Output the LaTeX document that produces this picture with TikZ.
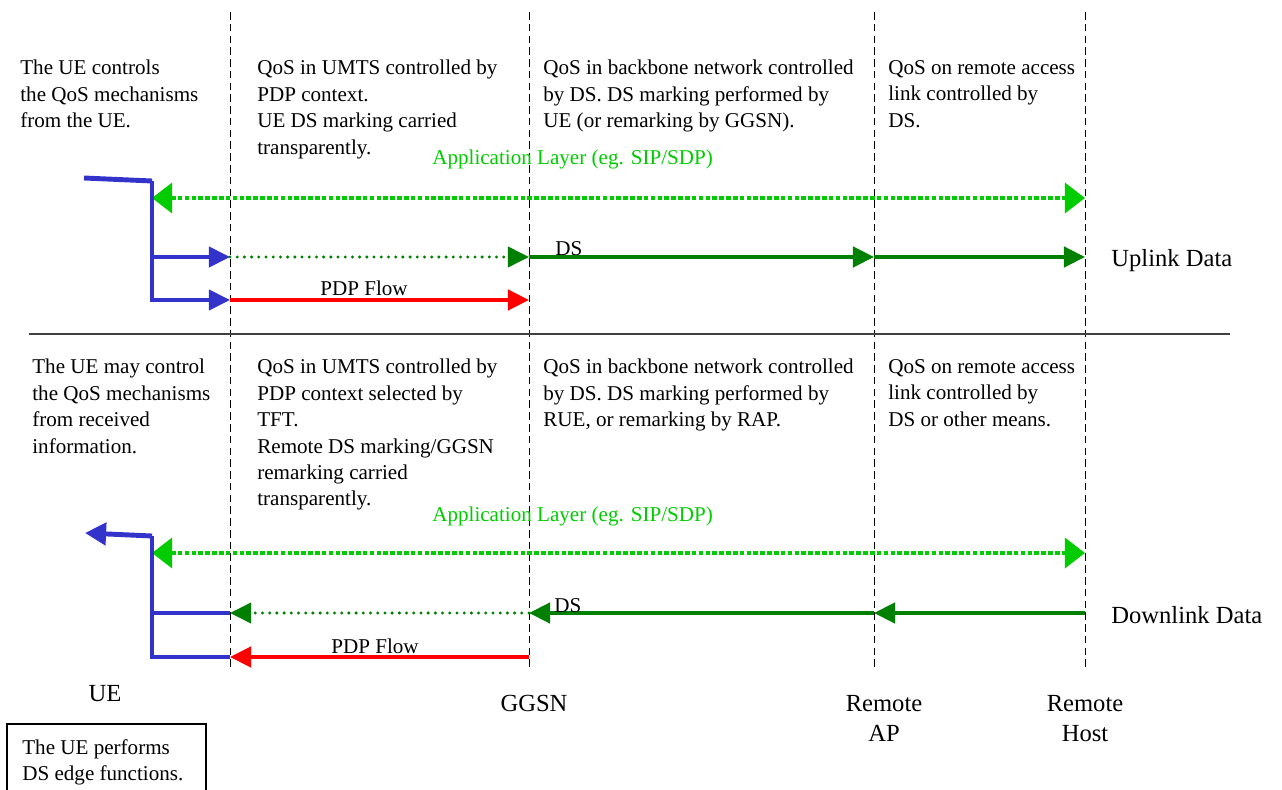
\documentclass[tikz,border=0pt]{standalone}
\usepackage{fontspec}
\setmainfont{Liberation Serif}
\usetikzlibrary{arrows.meta, positioning}
\definecolor{appgreen}{RGB}{0,204,0}
\definecolor{dsgreen}{RGB}{0,128,0}
\definecolor{uablue}{RGB}{51,51,204}

\begin{document}
\begin{tikzpicture}[x=0.02cm, y=-0.02cm,
  txt/.style={anchor=north west, inner sep=0pt, align=left, font=\fontsize{12}{15}\selectfont},
  flow/.style={anchor=base, inner sep=0pt, font=\fontsize{12}{15}\selectfont},
  lbl/.style={inner sep=0pt, align=center, font=\fontsize{14}{17}\selectfont},
  border/.style={black, line width=0.5pt, dash pattern=on 4.3pt off 2.4pt},
  app/.style={appgreen, line width=2.6pt, dash pattern=on 2.6pt off 1.3pt,
    {Triangle[length=11.5pt,width=17pt]}-{Triangle[length=11.5pt,width=17pt]}},
  dsdot/.style={dsgreen, line width=1.9pt, line cap=round, dash pattern=on 0pt off 4.1pt},
  ds/.style={dsgreen, line width=2.3pt},
  pdp/.style={red, line width=2.3pt},
  ua/.style={uablue, line width=2pt},
  head/.style={-{Triangle[length=12pt,width=11.5pt]}}]
\useasboundingbox (0,0) rectangle (1282,790);

% Nodos de red
\foreach \n/\x in {ue/230, ggsn/529, rap/874, rh/1085}
  \draw[border] (\x,12) coordinate (\n-t) -- (\x,668) coordinate (\n-b);
\draw[black!75, line width=0.75pt] (29,334) coordinate (sepL) -- (1230,334) coordinate (sepR);

% Carriles
\coordinate (uaX) at (152,0);
\coordinate (upApp) at (0,198);
\coordinate (upDS) at (0,257);
\coordinate (upPDP) at (0,300);
\coordinate (dnApp) at (0,553);
\coordinate (dnDS) at (0,613);
\coordinate (dnPDP) at (0,657);
\coordinate (upIn) at (84,178);
\coordinate (upCorner) at (152,181);
\coordinate (dnOut) at (85,533);
\coordinate (dnCorner) at (152,536);

% Textos superiores
\node[txt] (ueUp) at (20,60) {The UE controls\\the QoS mechanisms\\from the UE.};
\node[txt] (umtsUp) at (257,60) {QoS in UMTS controlled by\\PDP context.\\UE DS marking carried\\transparently.};
\node[txt] (bbUp) at (543,60) {QoS in backbone network controlled\\by DS. DS marking performed by\\UE (or remarking by GGSN).};
\node[txt] (raUp) at (888,60) {QoS on remote access\\link controlled by\\DS.};
\node[txt, appgreen, anchor=west] (appUp) at (432,159) {Application Layer (eg. SIP/SDP)};

% Textos inferiores
\node[txt] (ueDn) at (32,359) {The UE may control\\the QoS mechanisms\\from received\\information.};
\node[txt] (umtsDn) at (257,359) {QoS in UMTS controlled by\\PDP context selected by\\TFT.\\Remote DS marking/GGSN\\remarking carried\\transparently.};
\node[txt] (bbDn) at (543,359) {QoS in backbone network controlled\\by DS. DS marking performed by\\RUE, or remarking by RAP.};
\node[txt] (raDn) at (888,359) {QoS on remote access\\link controlled by\\DS or other means.};
\node[txt, appgreen, anchor=west] (appDn) at (432,516) {Application Layer (eg. SIP/SDP)};

% Uplink
\draw[app] (uaX |- upApp) -- (rh-t |- upApp);
\draw[ua, line width=2.8pt, line join=round] (upIn) -- (upCorner);
\draw[ua, head] (upCorner) |- (ue-t |- upPDP);
\draw[ua, head] (uaX |- upDS) -- (ue-t |- upDS);
\draw[dsdot, head] (ue-t |- upDS) -- (ggsn-t |- upDS);
\draw[ds, head] (ggsn-t |- upDS) -- (rap-t |- upDS);
\draw[ds, head] (rap-t |- upDS) -- (rh-t |- upDS);
\draw[pdp, head] (ue-t |- upPDP) -- (ggsn-t |- upPDP);
\node[flow, anchor=base west] (dsUp) at (555,256) {DS};
\node[flow] (pdpUp) at (364,296) {PDP Flow};
\node[lbl, anchor=base west] (uplink) at (1111,267) {Uplink Data};

% Downlink
\draw[app] (uaX |- dnApp) -- (rh-t |- dnApp);
\draw[ua, line width=2.8pt, -{Triangle[length=12pt,width=12.5pt]}] (dnCorner) -- (dnOut);
\draw[ua] (dnCorner) |- (ue-t |- dnPDP);
\draw[ua] (uaX |- dnDS) -- (ue-t |- dnDS);
\draw[ds, head] (rh-t |- dnDS) -- (rap-t |- dnDS);
\draw[ds, head] (rap-t |- dnDS) -- (ggsn-t |- dnDS);
\draw[dsdot, head] (ggsn-t |- dnDS) -- (ue-t |- dnDS);
\draw[pdp, head] (ggsn-t |- dnPDP) -- (ue-t |- dnPDP);
\node[flow, anchor=base west] (dsDn) at (554,612) {DS};
\node[flow] (pdpDn) at (375,653) {PDP Flow};
\node[lbl, anchor=base west] (downlink) at (1111,623) {Downlink Data};

% Etiquetas
\node[lbl, anchor=north] (ueLbl) at (105,685) {UE};
\node[lbl, anchor=north] (ggsnLbl) at (534,695) {GGSN};
\node[lbl, anchor=north] (rapLbl) at (884,695) {Remote\\AP};
\node[lbl, anchor=north] (rhLbl) at (1085,695) {Remote\\Host};
\node[txt, font=\fontsize{12}{15.2}\selectfont] (edgeTxt) at (22,739) {The UE performs\\DS edge functions.};
\draw[line width=0.6pt] (7,724) rectangle (206,800);
\end{tikzpicture}
\end{document}
